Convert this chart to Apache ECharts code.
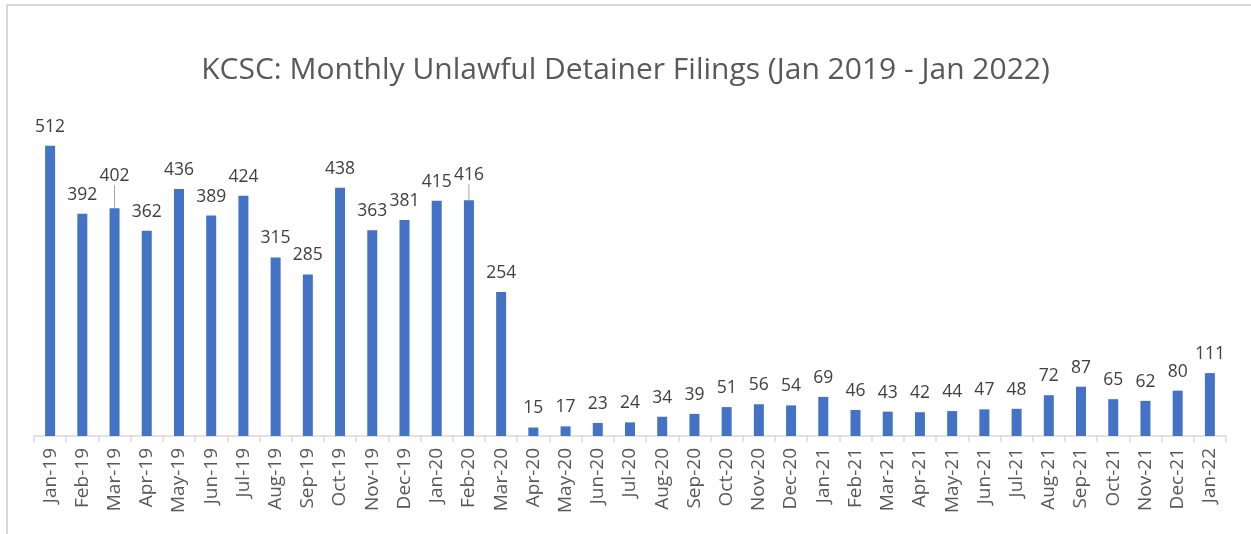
<!DOCTYPE html>
<html><head><meta charset="utf-8">
<script src="https://cdn.jsdelivr.net/npm/echarts@6/dist/echarts.min.js"></script>
<style>
html,body{margin:0;padding:0;background:#fff;}
#frame{position:absolute;left:6px;top:4px;width:1260px;height:560px;border:2px solid #d9d9d9;box-sizing:border-box;}
#c{position:absolute;left:0;top:0;width:1251px;height:534px;}
</style></head>
<body>
<div id="frame"></div>
<div id="c"></div>
<script>
const categories = ["Jan-19","Feb-19","Mar-19","Apr-19","May-19","Jun-19","Jul-19","Aug-19","Sep-19","Oct-19","Nov-19","Dec-19",
"Jan-20","Feb-20","Mar-20","Apr-20","May-20","Jun-20","Jul-20","Aug-20","Sep-20","Oct-20","Nov-20","Dec-20",
"Jan-21","Feb-21","Mar-21","Apr-21","May-21","Jun-21","Jul-21","Aug-21","Sep-21","Oct-21","Nov-21","Dec-21","Jan-22"];
const filings = [512,392,402,362,436,389,424,315,285,438,363,381,
415,416,254,15,17,23,24,34,39,51,56,54,
69,46,43,42,44,47,48,72,87,65,62,80,111];
const titleText = "KCSC: Monthly Unlawful Detainer Filings (Jan 2019 - Jan 2022)";
const raisedLabels = {"Mar-19": -13, "Feb-20": -6};

const chart = echarts.init(document.getElementById('c'), null, {renderer:'canvas'});
const fontFamily = '"Open Sans", "Liberation Sans", sans-serif';
chart.setOption({
  animation:false,
  title:{text:titleText,left:'center',top:50,textStyle:{fontFamily,fontSize:30,fontWeight:'normal',color:'#595959'}},
  grid:{left:34,right:25,top:96,bottom:98},
  xAxis:{type:'category',data:categories,boundaryGap:true,
    axisLine:{lineStyle:{color:'#d9d9d9',width:1.5}},
    axisTick:{show:true,length:6,lineStyle:{color:'#d9d9d9',width:1.5}},
    axisLabel:{rotate:90,interval:0,margin:12,fontFamily,fontSize:19,color:'#595959'}},
  yAxis:{type:'value',min:0,max:600,show:false,splitLine:{show:false}},
  series:[{type:'bar',barWidth:10,itemStyle:{color:'#4472c4'},
    data:filings.map((v,i)=>{
      const d={value:v};
      if(raisedLabels[categories[i]]!==undefined){d.labelLine={show:true};}
      return d;
    }),
    label:{show:true,position:'top',distance:10,fontFamily,fontSize:17.5,color:'#404040'},
    labelLine:{show:false,lineStyle:{color:'#a6a6a6',width:1}},
    labelLayout:function(p){
      const dy=raisedLabels[categories[p.dataIndex]];
      return dy!==undefined?{dy:dy}:{};
    }
  }]
});
</script>
</body></html>
